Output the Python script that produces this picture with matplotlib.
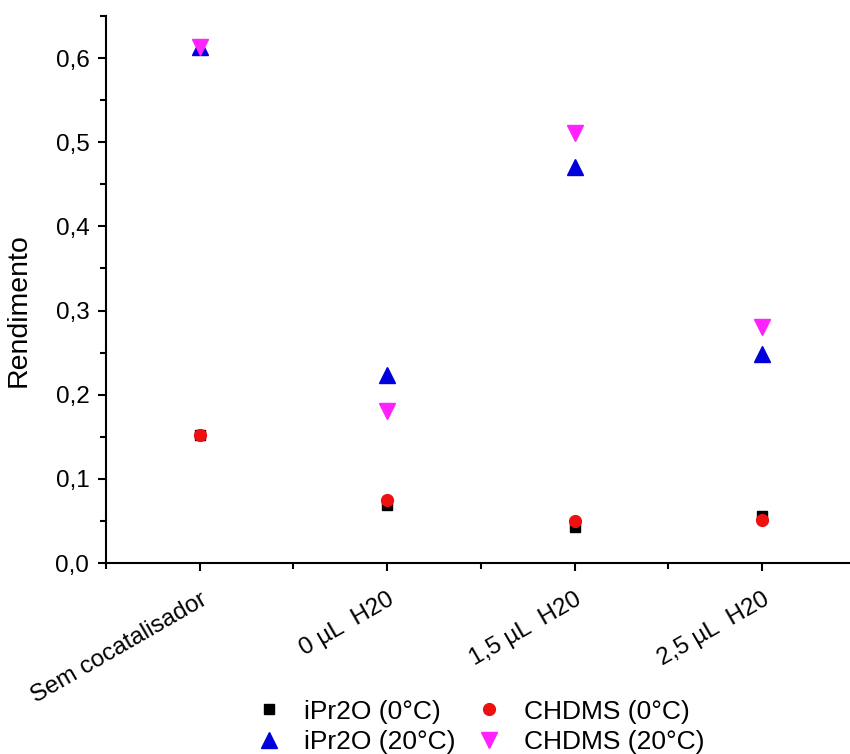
import numpy as np
import matplotlib.pyplot as plt
from matplotlib.ticker import MultipleLocator, FuncFormatter

plt.rcParams['font.family'] = ['Liberation Sans', 'DejaVu Sans']

categories = ['Sem cocatalisador', '0 µL  H20', '1,5 µL  H20', '2,5 µL  H20']
ipr2o_0 = [0.152, 0.069, 0.043, 0.056]
chdms_0 = [0.152, 0.075, 0.050, 0.051]
ipr2o_20 = [0.613, 0.223, 0.470, 0.248]
chdms_20 = [0.613, 0.181, 0.511, 0.281]

fig = plt.figure(figsize=(8.5, 7.54), dpi=100)
ax = fig.add_axes([0.1247, 0.2533, 0.8753, 0.7255])

x = np.arange(len(categories))
h1, = ax.plot(x, ipr2o_0, 's', color='black', ms=7.5, ls='none', label='iPr2O (0°C)')
h2, = ax.plot(x, chdms_0, 'o', color='#ee1111', ms=8.5, ls='none', label='CHDMS (0°C)')
h3, = ax.plot(x, ipr2o_20, '^', color='#0000dd', ms=11, ls='none', label='iPr2O (20°C)')
h4, = ax.plot(x, chdms_20, 'v', color='#ff22ff', ms=11, ls='none', label='CHDMS (20°C)')

ax.set_xlim(-0.5, 3.47)
ax.set_ylim(0, 0.65)
ax.set_xticks(x)
ax.set_xticklabels(categories, rotation=30, ha='right', va='top', rotation_mode='anchor')
ax.xaxis.set_minor_locator(MultipleLocator(0.5))
ax.yaxis.set_major_locator(MultipleLocator(0.1))
ax.yaxis.set_minor_locator(MultipleLocator(0.05))
ax.yaxis.set_major_formatter(FuncFormatter(lambda v, p: f'{v:.1f}'.replace('.', ',')))

ax.spines['top'].set_visible(False)
ax.spines['right'].set_visible(False)
for s in ['left', 'bottom']:
    ax.spines[s].set_linewidth(1.5)
ax.tick_params(which='major', direction='out', length=6, width=1.5, labelsize=17.5, colors='black')
ax.tick_params(which='minor', direction='out', length=4, width=1.5)
ax.tick_params(axis='x', which='major', pad=12.5)
ax.tick_params(axis='y', which='major', pad=6)

ax.set_ylabel('Rendimento', fontsize=20.5)
ax.yaxis.set_label_coords(-0.0995, 0.4615)

# legend fills column-wise, so order handles to get the 2x2 layout
fig.legend(handles=[h1, h3, h2, h4], ncol=2, loc='center', bbox_to_anchor=(0.565, 0.036),
           frameon=False, fontsize=19, handlelength=1.0, handletextpad=0.83,
           columnspacing=0.77, labelspacing=0.24, numpoints=1, borderpad=0.2)

fig.savefig('out.png', dpi=100)
